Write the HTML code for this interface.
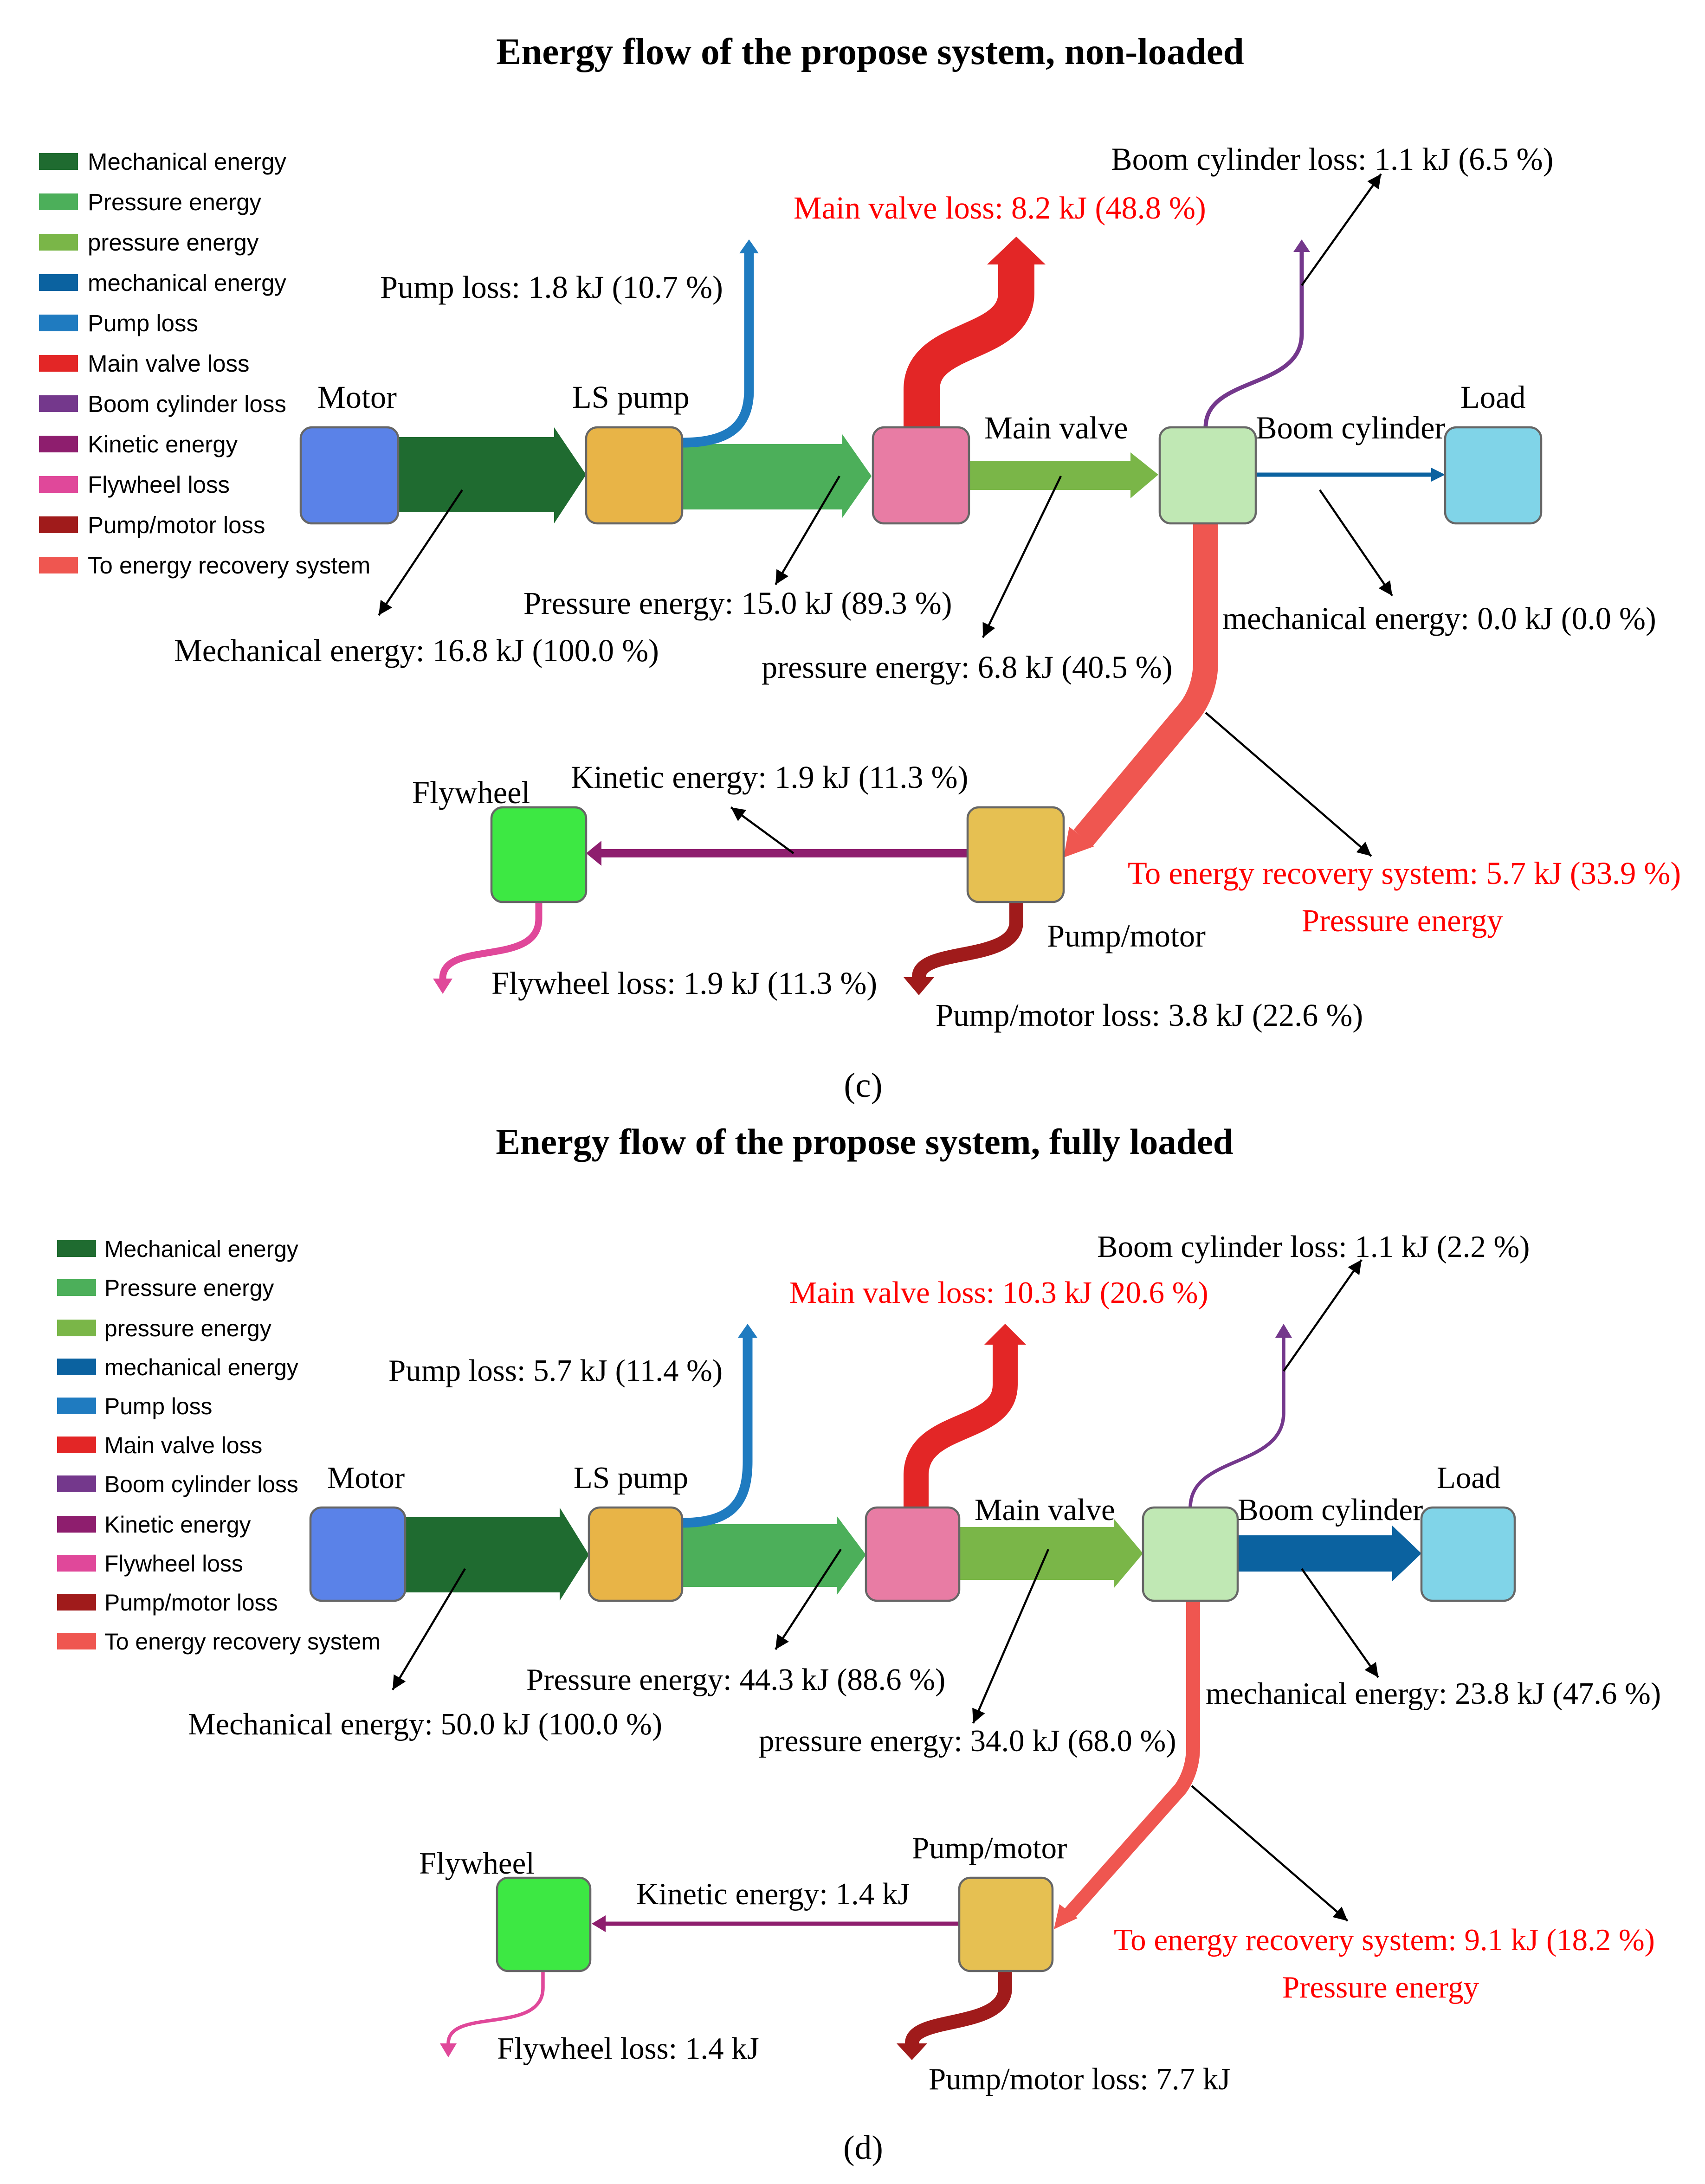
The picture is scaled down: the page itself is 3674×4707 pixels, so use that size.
<!DOCTYPE html>
<html><head><meta charset="utf-8"><style>html,body{margin:0;padding:0;background:#fff}svg{display:block}</style></head>
<body>
<svg xmlns="http://www.w3.org/2000/svg" width="3674" height="4707" viewBox="0 0 1224.67 1569">
<defs>
<marker id="ah" markerUnits="userSpaceOnUse" markerWidth="12" markerHeight="12" refX="10" refY="5" orient="auto"><path d="M0,0 L10,5 L0,10 z" fill="#000"/></marker>
</defs>
<rect width="1224.67" height="1569" fill="#fff"/>
<g font-family="Liberation Serif, serif" font-size="22.8" fill="#000">
<!-- ===== (c) ===== -->
<text x="625" y="46" text-anchor="middle" font-weight="bold" font-size="27">Energy flow of the propose system, non-loaded</text>
<g font-family="Liberation Sans, sans-serif" font-size="17">
<rect x="28" y="110" width="28" height="12" fill="#1f6b30"/><text x="63" y="122">Mechanical energy</text>
<rect x="28" y="139" width="28" height="12" fill="#4caf5a"/><text x="63" y="151">Pressure energy</text>
<rect x="28" y="168" width="28" height="12" fill="#7ab648"/><text x="63" y="180">pressure energy</text>
<rect x="28" y="197" width="28" height="12" fill="#0b62a0"/><text x="63" y="209">mechanical energy</text>
<rect x="28" y="226" width="28" height="12" fill="#1f7bc0"/><text x="63" y="238">Pump loss</text>
<rect x="28" y="255" width="28" height="12" fill="#e32626"/><text x="63" y="267">Main valve loss</text>
<rect x="28" y="284" width="28" height="12" fill="#74388c"/><text x="63" y="296">Boom cylinder loss</text>
<rect x="28" y="313" width="28" height="12" fill="#8e1e6e"/><text x="63" y="325">Kinetic energy</text>
<rect x="28" y="342" width="28" height="12" fill="#e0489a"/><text x="63" y="354">Flywheel loss</text>
<rect x="28" y="371" width="28" height="12" fill="#a01b1b"/><text x="63" y="383">Pump/motor loss</text>
<rect x="28" y="400" width="28" height="12" fill="#ef5650"/><text x="63" y="412">To energy recovery system</text>
</g>
<polygon points="286,314 398,314 398,307 421,341 398,376 398,368 286,368" fill="#1f6b30"/>
<polygon points="490,319 605,319 605,312 626,342 605,372 605,366 490,366" fill="#4caf5a"/>
<path d="M490,318 C525,318 538,305 538,280 L538,180" fill="none" stroke="#1f7bc0" stroke-width="7"/>
<polygon points="531,182 545,182 538,172" fill="#1f7bc0"/>
<path d="M662,310 L662,280 C662,240 730,250 730,210 L730,188" fill="none" stroke="#e32626" stroke-width="26"/>
<polygon points="709,190 751,190 730,170" fill="#e32626"/>
<polygon points="696,331 812,331 812,325 832,341 812,358 812,352 696,352" fill="#7ab648"/>
<line x1="902" y1="341" x2="1030" y2="341" stroke="#0b62a0" stroke-width="3"/>
<polygon points="1028,336 1038,341 1028,346" fill="#0b62a0"/>
<path d="M866,307 C866,270 935,280 935,240 L935,180" fill="none" stroke="#74388c" stroke-width="3"/>
<polygon points="929,181 941,181 935,172" fill="#74388c"/>
<path d="M866,376 L866,475 Q866,495 855,510 L778,602" fill="none" stroke="#ef5650" stroke-width="18" stroke-linejoin="round"/>
<polygon points="764,616 768,594 786,608" fill="#ef5650"/>
<line x1="695" y1="613" x2="430" y2="613" stroke="#8e1e6e" stroke-width="6"/>
<polygon points="432,604 432,622 421,613" fill="#8e1e6e"/>
<path d="M730,646 L730,662 C730,692 660,680 660,702" fill="none" stroke="#a01b1b" stroke-width="10"/>
<polygon points="649,702 671,702 660,715" fill="#a01b1b"/>
<path d="M387,646 L387,660 C387,695 318,675 318,703" fill="none" stroke="#e0489a" stroke-width="5"/>
<polygon points="311,703 325,703 318,714" fill="#e0489a"/>
<g stroke="#666" stroke-width="1.5">
<rect x="216" y="307" width="70" height="69" rx="8" fill="#5a82e8"/>
<rect x="421" y="307" width="69" height="69" rx="8" fill="#e8b447"/>
<rect x="627" y="307" width="69" height="69" rx="8" fill="#e87ca4"/>
<rect x="833" y="307" width="69" height="69" rx="8" fill="#c0e8b4"/>
<rect x="1038" y="307" width="69" height="69" rx="8" fill="#80d4e8"/>
<rect x="353" y="580" width="68" height="68" rx="8" fill="#3de843"/>
<rect x="695" y="580" width="69" height="68" rx="8" fill="#e6c052"/>
</g>
<text x="228" y="293">Motor</text>
<text x="411" y="293">LS pump</text>
<text x="707" y="315">Main valve</text>
<text x="902" y="315">Boom cylinder</text>
<text x="1049" y="293">Load</text>
<text x="296" y="577">Flywheel</text>
<text x="752" y="680">Pump/motor</text>
<g stroke="#000" stroke-width="1.5" marker-end="url(#ah)">
<line x1="332" y1="352" x2="272" y2="442"/>
<line x1="603" y1="342" x2="557" y2="420"/>
<line x1="762" y1="342" x2="706" y2="458"/>
<line x1="948" y1="352" x2="1000" y2="428"/>
<line x1="935" y1="205" x2="992" y2="125"/>
<line x1="570" y1="613" x2="525" y2="580"/>
<line x1="866" y1="512" x2="985" y2="615"/>
</g>
<text x="125" y="475">Mechanical energy: 16.8 kJ (100.0 %)</text>
<text x="376" y="441">Pressure energy: 15.0 kJ (89.3 %)</text>
<text x="547" y="487">pressure energy: 6.8 kJ (40.5 %)</text>
<text x="878" y="452">mechanical energy: 0.0 kJ (0.0 %)</text>
<text x="273" y="214">Pump loss: 1.8 kJ (10.7 %)</text>
<text x="570" y="157" fill="#f00">Main valve loss: 8.2 kJ (48.8 %)</text>
<text x="798" y="122">Boom cylinder loss: 1.1 kJ (6.5 %)</text>
<text x="410" y="566">Kinetic energy: 1.9 kJ (11.3 %)</text>
<text x="810" y="635" fill="#f00">To energy recovery system: 5.7 kJ (33.9 %)</text>
<text x="935" y="669" fill="#f00">Pressure energy</text>
<text x="353" y="714">Flywheel loss: 1.9 kJ (11.3 %)</text>
<text x="672" y="737">Pump/motor loss: 3.8 kJ (22.6 %)</text>
<text x="620" y="788" text-anchor="middle" font-size="25">(c)</text>
</g>

<g font-family="Liberation Serif, serif" font-size="22.3" fill="#000">
<!-- ===== (d) ===== -->
<text x="621" y="829" text-anchor="middle" font-weight="bold" font-size="26.3">Energy flow of the propose system, fully loaded</text>
<g font-family="Liberation Sans, sans-serif" font-size="16.6">
<rect x="41" y="891" width="28" height="12" fill="#1f6b30"/><text x="75" y="903">Mechanical energy</text>
<rect x="41" y="919" width="28" height="12" fill="#4caf5a"/><text x="75" y="931">Pressure energy</text>
<rect x="41" y="948" width="28" height="12" fill="#7ab648"/><text x="75" y="960">pressure energy</text>
<rect x="41" y="976" width="28" height="12" fill="#0b62a0"/><text x="75" y="988">mechanical energy</text>
<rect x="41" y="1004" width="28" height="12" fill="#1f7bc0"/><text x="75" y="1016">Pump loss</text>
<rect x="41" y="1032" width="28" height="12" fill="#e32626"/><text x="75" y="1044">Main valve loss</text>
<rect x="41" y="1060" width="28" height="12" fill="#74388c"/><text x="75" y="1072">Boom cylinder loss</text>
<rect x="41" y="1089" width="28" height="12" fill="#8e1e6e"/><text x="75" y="1101">Kinetic energy</text>
<rect x="41" y="1117" width="28" height="12" fill="#e0489a"/><text x="75" y="1129">Flywheel loss</text>
<rect x="41" y="1145" width="28" height="12" fill="#a01b1b"/><text x="75" y="1157">Pump/motor loss</text>
<rect x="41" y="1173" width="28" height="12" fill="#ef5650"/><text x="75" y="1185">To energy recovery system</text>
</g>
<polygon points="291,1090 402,1090 402,1083 423,1117 402,1150 402,1144 291,1144" fill="#1f6b30"/>
<polygon points="490,1095 601,1095 601,1089 622,1117 601,1146 601,1140 490,1140" fill="#4caf5a"/>
<path d="M490,1094 C525,1094 537,1080 537,1050 L537,960" fill="none" stroke="#1f7bc0" stroke-width="7"/>
<polygon points="530,961 544,961 537,951" fill="#1f7bc0"/>
<path d="M658,1085 L658,1060 C658,1020 722,1030 722,995 L722,966" fill="none" stroke="#e32626" stroke-width="18"/>
<polygon points="707,966 737,966 722,951" fill="#e32626"/>
<polygon points="689,1097 800,1097 800,1091 821,1116 800,1141 800,1135 689,1135" fill="#7ab648"/>
<polygon points="889,1103 1000,1103 1000,1096 1021,1116 1000,1136 1000,1129 889,1129" fill="#0b62a0"/>
<path d="M855,1083 C855,1045 922,1055 922,1015 L922,960" fill="none" stroke="#74388c" stroke-width="2.5"/>
<polygon points="916,961 928,961 922,951" fill="#74388c"/>
<path d="M857,1150 L857,1255 Q857,1272 848,1285 L768,1375" fill="none" stroke="#ef5650" stroke-width="10" stroke-linejoin="round"/>
<polygon points="757,1386 761,1368 774,1378" fill="#ef5650"/>
<line x1="689" y1="1382" x2="433" y2="1382" stroke="#8e1e6e" stroke-width="3"/>
<polygon points="435,1376 435,1388 425,1382" fill="#8e1e6e"/>
<path d="M722,1414 L722,1428 C722,1458 655,1448 655,1468" fill="none" stroke="#a01b1b" stroke-width="10"/>
<polygon points="644,1468 666,1468 655,1480" fill="#a01b1b"/>
<path d="M390,1414 L390,1428 C390,1462 322,1442 322,1468" fill="none" stroke="#e0489a" stroke-width="2.5"/>
<polygon points="316,1468 328,1468 322,1478" fill="#e0489a"/>
<g stroke="#666" stroke-width="1.5">
<rect x="223" y="1083" width="68" height="67" rx="8" fill="#5a82e8"/>
<rect x="423" y="1083" width="67" height="67" rx="8" fill="#e8b447"/>
<rect x="622" y="1083" width="67" height="67" rx="8" fill="#e87ca4"/>
<rect x="821" y="1083" width="68" height="67" rx="8" fill="#c0e8b4"/>
<rect x="1021" y="1083" width="67" height="67" rx="8" fill="#80d4e8"/>
<rect x="357" y="1349" width="67" height="67" rx="8" fill="#3de843"/>
<rect x="689" y="1349" width="67" height="67" rx="8" fill="#e6c052"/>
</g>
<text x="235" y="1069">Motor</text>
<text x="412" y="1069">LS pump</text>
<text x="700" y="1092">Main valve</text>
<text x="889" y="1092">Boom cylinder</text>
<text x="1032" y="1069">Load</text>
<text x="301" y="1346">Flywheel</text>
<text x="655" y="1335">Pump/motor</text>
<g stroke="#000" stroke-width="1.5" marker-end="url(#ah)">
<line x1="334" y1="1127" x2="282" y2="1214"/>
<line x1="604" y1="1113" x2="557" y2="1185"/>
<line x1="753" y1="1113" x2="699" y2="1238"/>
<line x1="935" y1="1127" x2="990" y2="1205"/>
<line x1="922" y1="985" x2="978" y2="905"/>
<line x1="856" y1="1283" x2="968" y2="1380"/>
</g>
<text x="135" y="1246">Mechanical energy: 50.0 kJ (100.0 %)</text>
<text x="378" y="1214">Pressure energy: 44.3 kJ (88.6 %)</text>
<text x="545" y="1258">pressure energy: 34.0 kJ (68.0 %)</text>
<text x="866" y="1224">mechanical energy: 23.8 kJ (47.6 %)</text>
<text x="279" y="992">Pump loss: 5.7 kJ (11.4 %)</text>
<text x="567" y="936" fill="#f00">Main valve loss: 10.3 kJ (20.6 %)</text>
<text x="788" y="903">Boom cylinder loss: 1.1 kJ (2.2 %)</text>
<text x="457" y="1368">Kinetic energy: 1.4 kJ</text>
<text x="800" y="1401" fill="#f00">To energy recovery system: 9.1 kJ (18.2 %)</text>
<text x="921" y="1435" fill="#f00">Pressure energy</text>
<text x="357" y="1479">Flywheel loss: 1.4 kJ</text>
<text x="667" y="1501">Pump/motor loss: 7.7 kJ</text>
<text x="620" y="1551" text-anchor="middle" font-size="24.5">(d)</text>
</g>
</svg>
</body></html>
